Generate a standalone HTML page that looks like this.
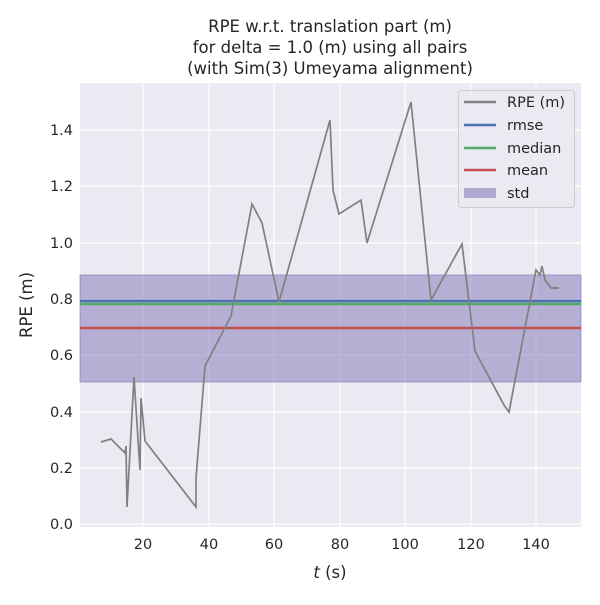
<!DOCTYPE html>
<html><head><style>body{margin:0;background:#fff}</style></head><body>
<svg width="600" height="600" xmlns="http://www.w3.org/2000/svg" font-family="DejaVu Sans, Liberation Sans, sans-serif">
<rect x="80" y="83" width="501" height="444" fill="#eaeaf2"/>
<g stroke="#fff" stroke-width="1.2">
<line x1="143" y1="83" x2="143" y2="527"/><line x1="209" y1="83" x2="209" y2="527"/><line x1="274" y1="83" x2="274" y2="527"/><line x1="340" y1="83" x2="340" y2="527"/><line x1="405" y1="83" x2="405" y2="527"/><line x1="471" y1="83" x2="471" y2="527"/><line x1="536" y1="83" x2="536" y2="527"/>
<line x1="80" y1="524" x2="581" y2="524"/><line x1="80" y1="468" x2="581" y2="468"/><line x1="80" y1="412" x2="581" y2="412"/><line x1="80" y1="355" x2="581" y2="355"/><line x1="80" y1="299" x2="581" y2="299"/><line x1="80" y1="243" x2="581" y2="243"/><line x1="80" y1="186" x2="581" y2="186"/><line x1="80" y1="130" x2="581" y2="130"/>
</g>
<rect x="80" y="275" width="501" height="107" fill="#8172b3" fill-opacity="0.5" stroke="#8172b3" stroke-opacity="0.6"/>
<line x1="80" y1="301" x2="581" y2="301" stroke="#4c72b0" stroke-width="2.4"/>
<line x1="80" y1="304" x2="581" y2="304" stroke="#55a868" stroke-width="2.4"/>
<line x1="80" y1="328" x2="581" y2="328" stroke="#c44e52" stroke-width="2.4"/>
<polyline fill="none" stroke="#808080" stroke-width="1.7" points="101,442 111,439 125,453 126,446 127,507 134,377 140,470 141,398 145,441 196,507 196,478 205,366 231,316 252,204 262,223 279,302 330,120 333,190 339,214 361,200 367,243 411,102 431,300 462,244 475,351 504,405 509,412 536,270 540,275 542,266 545,280 551,288 559,288"/>
<g font-size="14.5" fill="#262626" text-anchor="end">
<text x="73" y="529">0.0</text><text x="73" y="473">0.2</text><text x="73" y="417">0.4</text><text x="73" y="360">0.6</text><text x="73" y="304">0.8</text><text x="73" y="248">1.0</text><text x="73" y="191">1.2</text><text x="73" y="135">1.4</text>
</g>
<g font-size="14.5" fill="#262626" text-anchor="middle">
<text x="143" y="549">20</text><text x="209" y="549">40</text><text x="274" y="549">60</text><text x="340" y="549">80</text><text x="405" y="549">100</text><text x="471" y="549">120</text><text x="536" y="549">140</text>
<text x="330" y="578" font-size="16.5"><tspan font-style="italic">t</tspan> (s)</text>
<text x="330" y="32" font-size="16.5">RPE w.r.t. translation part (m)</text>
<text x="330" y="53" font-size="16.5">for delta = 1.0 (m) using all pairs</text>
<text x="330" y="74" font-size="16.5">(with Sim(3) Umeyama alignment)</text>
<text transform="translate(32,305) rotate(-90)" font-size="16.5">RPE (m)</text>
</g>
<rect x="458.5" y="90.5" width="116" height="117" rx="3" fill="#eaeaf2" fill-opacity="0.8" stroke="#ccc"/>
<g stroke-width="2.4">
<line x1="464" y1="102" x2="496" y2="102" stroke="#808080"/>
<line x1="464" y1="125" x2="496" y2="125" stroke="#4c72b0"/>
<line x1="464" y1="148" x2="496" y2="148" stroke="#55a868"/>
<line x1="464" y1="170" x2="496" y2="170" stroke="#c44e52"/>
</g>
<rect x="464" y="188" width="32" height="10" fill="#8172b3" fill-opacity="0.55"/>
<g font-size="14.5" fill="#262626">
<text x="507" y="107">RPE (m)</text><text x="507" y="130">rmse</text><text x="507" y="153">median</text><text x="507" y="175">mean</text><text x="507" y="198">std</text>
</g>
</svg>
</body></html>
